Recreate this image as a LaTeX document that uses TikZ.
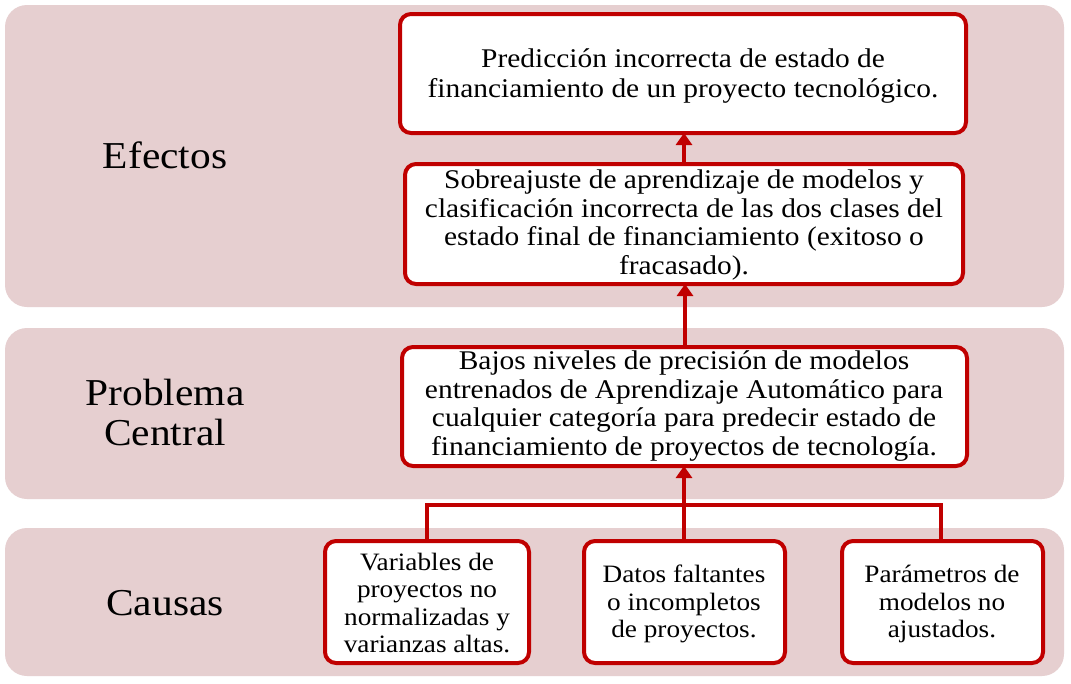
\documentclass[tikz,border=0pt]{standalone}
\usepackage{fontspec}
\setmainfont{Liberation Serif}[FakeStretch=1.09]
\usetikzlibrary{arrows.meta}
\definecolor{band}{HTML}{E6CFD0}
\definecolor{bred}{HTML}{C00000}
\begin{document}
\begin{tikzpicture}[x=1pt,y=-1pt,
  bandbox/.style={fill=band,draw=none,rounded corners=22pt},
  textbox/.style={draw=bred,line width=4pt,fill=white,rounded corners=11pt},
  boxtext/.style={align=center,font=\fontsize{27}{28.5}\selectfont,inner sep=0pt},
  toptext/.style={align=center,font=\fontsize{27}{30}\selectfont,inner sep=0pt},
  causetext/.style={align=center,font=\fontsize{25}{27.4}\selectfont,inner sep=0pt},
  labtext/.style={align=center,font=\fontsize{38}{40}\selectfont,inner sep=0pt},
  conn/.style={draw=bred,line width=4.5pt},
  arr/.style={conn,-{Triangle[width=16pt,length=12pt]}}]
\useasboundingbox (0,0) rectangle (1071,683);
\fill[white] (0,0) rectangle (1071,683);
% bands
\path[bandbox] (5,5) rectangle (1064,307);
\path[bandbox] (5,328) rectangle (1064,499);
\path[bandbox] (5,528) rectangle (1064,676);
% labels
\node[labtext] (lef) at (165,155) {Efectos};
\node[labtext] (lpc) at (165,412) {Problema\\Central};
\node[labtext] (lca) at (165,603) {Causas};
% boxes
\path[textbox] (400,14) rectangle (966,133);
\coordinate (b1s) at (684,133);
\node[toptext] (t1) at (683,76) {Predicción incorrecta de estado de\\financiamiento de un proyecto tecnológico.};
\path[textbox] (405,164) rectangle (963,284);
\coordinate (b2n) at (684,164);
\coordinate (b2s) at (685,284);
\node[boxtext] (t2) at (684,225) {Sobreajuste de aprendizaje de modelos y\\clasificación incorrecta de las dos clases del\\estado final de financiamiento (exitoso o\\fracasado).};
\path[textbox] (402,347) rectangle (967,466);
\coordinate (b3n) at (685,347);
\coordinate (b3s) at (684,466);
\node[boxtext] (t3) at (684,406) {Bajos niveles de precisión de modelos\\entrenados de Aprendizaje Automático para\\cualquier categoría para predecir estado de\\financiamiento de proyectos de tecnología.};
\path[textbox] (325,541) rectangle (529,663);
\coordinate (c1n) at (427,541);
\node[causetext] (tc1) at (427,603) {Variables de\\proyectos no\\normalizadas y\\varianzas altas.};
\path[textbox] (584,541) rectangle (785,663);
\coordinate (c2n) at (684,541);
\node[causetext] (tc2) at (684,604) {Datos faltantes\\o incompletos\\de proyectos.};
\path[textbox] (842,541) rectangle (1043,663);
\coordinate (c3n) at (941,541);
\node[causetext] (tc3) at (942,604) {Parámetros de\\modelos no\\ajustados.};
% connectors
\draw[arr] (b2n) -- (b1s);
\draw[arr] (b3n) -- (b2s);
\draw[arr] (c2n) -- (b3s);
\coordinate (j1) at (427,505);
\coordinate (j3) at (941,505);
\draw[conn,line join=miter] (c1n) -- (j1) -- (j3) -- (c3n);
\end{tikzpicture}
\end{document}
